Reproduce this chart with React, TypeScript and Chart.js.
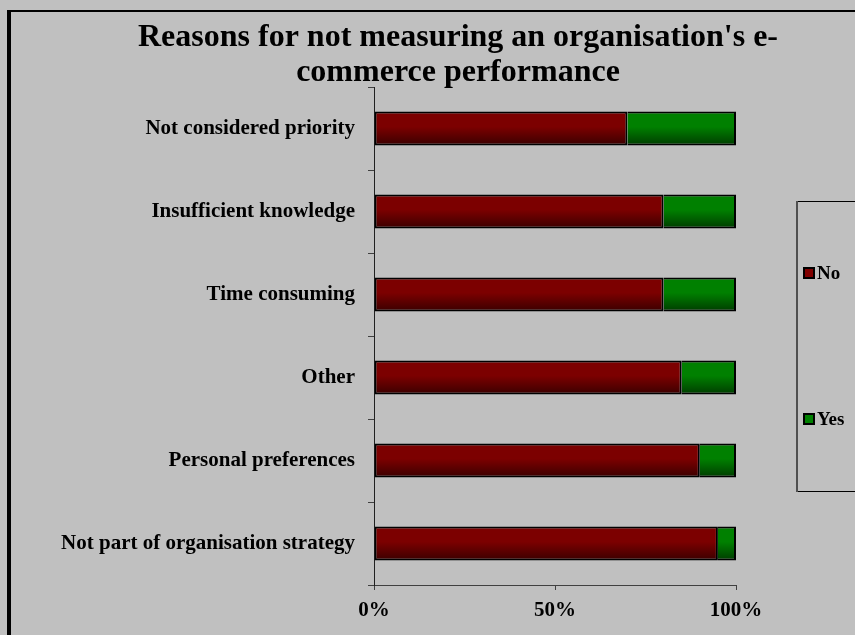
import React, { useEffect, useRef } from "react";
import { Chart, registerables } from "chart.js";

Chart.register(...registerables);

const titleLines = ["Reasons for not measuring an organisation's e-", "commerce performance"];
const categories = [
  "Not considered priority",
  "Insufficient knowledge",
  "Time consuming",
  "Other",
  "Personal preferences",
  "Not part of organisation strategy",
];
const noValues = [70, 80, 80, 85, 90, 95];
const yesValues = [30, 20, 20, 15, 10, 5];
const xTicks = [0, 50, 100];
const seriesNames = ["No", "Yes"];

const FONT = "'Liberation Serif', 'Times New Roman', serif";
const BAR_PCT = 0.41;

function gradientFor(top: string, bottom: string) {
  return (ctx: any) => {
    const chart = ctx.chart;
    const y = chart.scales && chart.scales.y;
    if (!y || ctx.type !== "data" || !y.height) return top;
    const c = y.getPixelForValue(ctx.dataIndex);
    const h = ((y.height / categories.length) * BAR_PCT) / 2;
    const g = chart.ctx.createLinearGradient(0, c - h, 0, c + h);
    g.addColorStop(0, top);
    g.addColorStop(0.45, top);
    g.addColorStop(1, bottom);
    return g;
  };
}

const decorPlugin = {
  id: "decor",
  beforeDraw(chart: any) {
    const ctx = chart.ctx;
    const W = chart.width;
    const H = chart.height;
    ctx.save();
    ctx.fillStyle = "#c0c0c0";
    ctx.fillRect(0, 0, W, H);
    ctx.fillStyle = "#000";
    ctx.fillRect(7, 10, 4, H - 10);
    ctx.fillRect(7, 10, W - 7, 2);
    // title
    ctx.fillStyle = "#000";
    ctx.font = `bold 32px ${FONT}`;
    ctx.textAlign = "center";
    ctx.textBaseline = "alphabetic";
    ctx.fillText(titleLines[0], 458, 46);
    ctx.fillText(titleLines[1], 458, 81);
    // legend box
    ctx.fillStyle = "#000";
    ctx.fillRect(797, 201, W - 797, 1);
    ctx.fillRect(797, 491, W - 797, 1);
    ctx.fillStyle = "#505050";
    ctx.fillRect(796, 201, 2, 291);
    const colors = ["#800000", "#008000"];
    const ys = [273, 419];
    chart.data.datasets.forEach((ds: any, i: number) => {
      ctx.fillStyle = "#000";
      ctx.fillRect(803, ys[i] - 6, 12, 12);
      ctx.fillStyle = colors[i];
      ctx.fillRect(805, ys[i] - 4, 8, 8);
      ctx.fillStyle = "#000";
      ctx.font = `bold 19px ${FONT}`;
      ctx.textAlign = "left";
      ctx.textBaseline = "middle";
      ctx.fillText(ds.label, 817, ys[i] + 1);
    });
    ctx.restore();
  },
};

export default function App() {
  const ref = useRef<HTMLCanvasElement | null>(null);
  useEffect(() => {
    if (!ref.current) return;
    const chart = new Chart(ref.current, {
      type: "bar",
      data: {
        labels: categories,
        datasets: [
          {
            label: seriesNames[0],
            data: noValues,
            backgroundColor: gradientFor("#7c0000", "#3a0000"),
            borderColor: "#000",
            borderWidth: 2,
            borderSkipped: false,
            categoryPercentage: 1,
            barPercentage: BAR_PCT,
          },
          {
            label: seriesNames[1],
            data: yesValues,
            backgroundColor: gradientFor("#008000", "#003c00"),
            borderColor: "#000",
            borderWidth: 2,
            borderSkipped: "left",
            categoryPercentage: 1,
            barPercentage: BAR_PCT,
          },
        ],
      },
      options: {
        indexAxis: "y",
        responsive: false,
        animation: false,
        layout: { padding: { left: 0, top: 87, right: 119, bottom: 0 } },
        plugins: {
          legend: { display: false },
          title: { display: false },
          tooltip: { enabled: false },
        },
        scales: {
          x: {
            stacked: true,
            min: 0,
            max: 100,
            afterBuildTicks: (scale: any) => {
              scale.ticks = xTicks.map((v) => ({ value: v }));
            },
            afterFit: (scale: any) => {
              scale.height = 50;
            },
            grid: {
              drawOnChartArea: false,
              drawTicks: true,
              tickLength: 5,
              color: "#404040",
            },
            border: { display: true, color: "#404040", width: 1 },
            ticks: {
              color: "#000",
              font: { family: FONT, size: 21, weight: "bold" },
              padding: 8,
              maxRotation: 0,
              callback: (v: any) => `${v}%`,
            },
          },
          y: {
            stacked: true,
            afterFit: (scale: any) => {
              scale.width = 374;
            },
            grid: {
              offset: true,
              drawOnChartArea: false,
              drawTicks: true,
              tickLength: 6,
              color: "#404040",
            },
            border: { display: true, color: "#202020", width: 1 },
            ticks: {
              color: "#000",
              font: { family: FONT, size: 21, weight: "bold" },
              padding: 13,
            },
          },
        },
      },
      plugins: [decorPlugin],
    } as any);
    return () => chart.destroy();
  }, []);
  return (
    <div style={{ position: "absolute", left: 0, top: 0, width: 855, height: 635 }}>
      <canvas ref={ref} width={855} height={635} style={{ display: "block" }} />
    </div>
  );
}
